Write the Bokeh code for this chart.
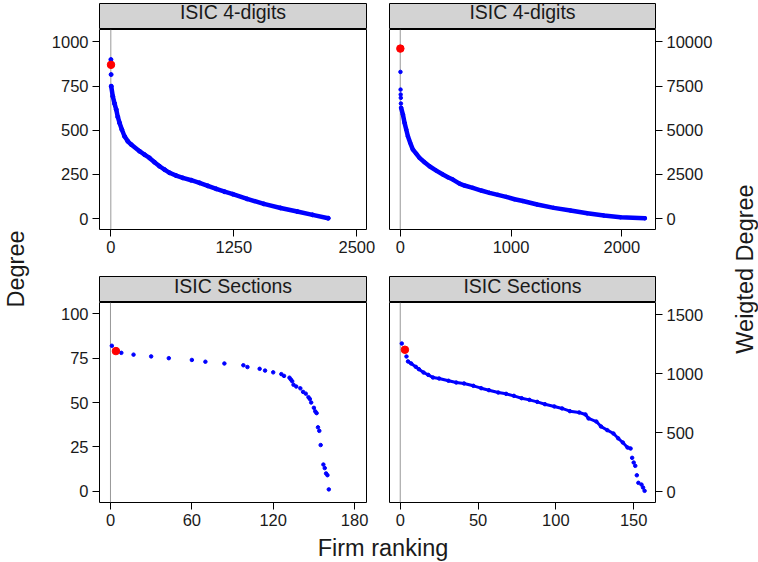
import math
from bokeh.plotting import figure
from bokeh.models import Range1d, FixedTicker, Span, Label
from bokeh.layouts import row, column
from bokeh.embed import file_html
from bokeh.resources import INLINE

# ---------------- data ----------------
strip_top = "ISIC 4-digits"
strip_bottom = "ISIC Sections"

# ISIC 4-digits, degree (rank vs degree)
d4_rank = [1, 3, 4, 20, 38, 55, 71, 89, 112, 139, 173, 207, 292, 342, 393, 444, 495,
           546, 597, 664, 732, 817, 901, 986, 1071, 1156, 1240, 1385, 1555, 1725,
           1894, 2050, 2209]
d4_val = [900, 815, 749, 692, 651, 617, 575, 541, 504, 466, 437, 419, 381, 362, 343, 319,
          296, 277, 259, 243, 230, 217, 202, 185, 168, 152, 138, 111, 83, 60, 40, 21, 2]
d4_hl_rank = [2]
d4_hl_val = [870]

# ISIC 4-digits, weighted degree
w4_rank = [2, 3, 4, 5, 6, 8, 24, 39, 54, 69, 90, 114, 144, 174, 219, 264, 325, 385, 430,
           475, 535, 580, 655, 731, 806, 881, 956, 1032, 1107, 1236, 1386, 1537, 1688,
           1838, 1988, 2208]
w4_val = [8300, 7300, 7020, 6830, 6510, 6265, 5886, 5415, 5037, 4660, 4284, 3905, 3678,
          3435, 3186, 2960, 2716, 2490, 2337, 2207, 1980, 1868, 1737, 1585, 1454, 1341,
          1228, 1092, 990, 792, 605, 453, 300, 170, 74, 17]
w4_hl_rank = [1]
w4_hl_val = [9620]

# ISIC Sections, degree
ds_rank = [1, 8, 17, 30, 43, 60, 70, 84, 98, 101, 110, 114, 120, 126, 128, 132, 133, 134,
           135, 137, 140, 142, 144, 146, 147, 148, 150, 151, 152, 153, 154, 155, 157, 158,
           159, 160, 161]
ds_val = [82, 78, 77, 76, 75, 74, 73, 72, 71, 70, 69, 68, 67, 66, 65, 64, 63, 62, 60, 59,
          58, 56, 55, 53, 52, 50, 47, 45, 44, 36, 34, 26, 15, 13, 10, 9, 1]
ds_hl_rank = [4]
ds_hl_val = [79]

# ISIC Sections, weighted degree
ws_rank = [1, 4, 5, 7, 10, 12, 15, 18, 21, 25, 31, 36, 41, 47, 52, 57, 63, 68, 73, 78, 83,
           88, 93, 99, 104, 109, 115, 119, 121, 126, 129, 133, 137, 140, 143, 146, 148,
           149, 150, 151, 152, 153, 155, 156, 157]
ws_val = [1256, 1146, 1104, 1087, 1058, 1038, 1010, 990, 968, 959, 940, 925, 917, 897, 877,
          860, 840, 829, 812, 792, 778, 761, 741, 722, 705, 682, 671, 654, 620, 594, 552,
          521, 492, 452, 416, 374, 365, 286, 246, 218, 138, 74, 59, 34, 6]
ws_hl_rank = [3]
ws_hl_val = [1203]

x_ticks_tl = [0, 1250, 2500]
y_ticks_tl = [0, 250, 500, 750, 1000]
x_ticks_tr = [0, 1000, 2000]
y_ticks_tr = [0, 2500, 5000, 7500, 10000]
x_ticks_bl = [0, 60, 120, 180]
y_ticks_bl = [0, 25, 50, 75, 100]
x_ticks_br = [0, 50, 100, 150]
y_ticks_br = [0, 500, 1000, 1500]

y_title_left = "Degree"
y_title_right = "Weigted Degree"
x_title = "Firm ranking"

# ---------------- styling ----------------
FONT = "Liberation Sans"
TICK_SIZE = "16.5px"
STRIP_SIZE = "19.5px"
TITLE_SIZE = "23.5px"
BLUE = "#0000FF"
RED = "#FF0000"
STRIP_FILL = "#D3D3D3"
TXT = "#1a1a1a"

LW, RW = 333, 340          # widths of left / right column figures
L_ML, L_MR = 54, 12        # borders -> frame 99..366
R_ML, R_MR = 11, 63        # borders -> frame 389..655


def style_axis(ax, ticks):
    ax.ticker = FixedTicker(ticks=ticks)
    ax.axis_line_color = None
    ax.major_tick_line_color = "#000000"
    ax.major_tick_out = 7
    ax.major_tick_in = 0
    ax.minor_tick_line_color = None
    ax.major_label_text_font = FONT
    ax.major_label_text_font_size = TICK_SIZE
    ax.major_label_text_color = TXT
    ax.major_label_standoff = 4


def panel(width, height, ml, mr, mb, xr, yr, yloc, xt, yt):
    p = figure(width=width, height=height, x_range=Range1d(*xr), y_range=Range1d(*yr),
               output_backend="svg", toolbar_location=None,
               x_axis_location="below", y_axis_location=yloc,
               min_border_left=ml, min_border_right=mr, min_border_top=0,
               min_border_bottom=mb)
    p.xgrid.visible = False
    p.ygrid.visible = False
    p.outline_line_color = "#000000"
    p.outline_line_width = 1
    p.border_fill_color = "white"
    style_axis(p.xaxis[0], xt)
    style_axis(p.yaxis[0], yt)
    p.add_layout(Span(location=0, dimension="height", line_color="#999999",
                      line_width=1, level="underlay"))
    return p


def strip(width, height, ml, mr, mt, text, base_y):
    s = figure(width=width, height=height, x_range=Range1d(0, 1), y_range=Range1d(0, 1),
               output_backend="svg", toolbar_location=None,
               x_axis_location=None, y_axis_location=None,
               min_border_left=ml, min_border_right=mr, min_border_top=mt,
               min_border_bottom=0)
    s.xgrid.visible = False
    s.ygrid.visible = False
    s.background_fill_color = STRIP_FILL
    s.border_fill_color = "white"
    s.outline_line_color = "#000000"
    s.outline_line_width = 1
    s.add_layout(Label(x=0.5, y=base_y, text=text, text_align="center",
                       text_baseline="alphabetic", text_font=FONT,
                       text_font_size=STRIP_SIZE, text_color=TXT))
    return s


def label_fig(width, height, **lab):
    f = figure(width=width, height=height, x_range=Range1d(0, width),
               y_range=Range1d(0, height), output_backend="svg", toolbar_location=None,
               x_axis_location=None, y_axis_location=None, min_border=0)
    f.xgrid.visible = False
    f.ygrid.visible = False
    f.outline_line_color = None
    f.border_fill_color = "white"
    f.add_layout(Label(text_font=FONT, text_font_size=TITLE_SIZE, text_color=TXT, **lab))
    return f


# ---------------- panels ----------------
tl = panel(LW, 246, L_ML, L_MR, 46, (-115, 2598), (-62, 1070), "left", x_ticks_tl, y_ticks_tl)
tl.line(d4_rank[2:], d4_val[2:], line_color=BLUE, line_width=4.5, line_cap="round")
tl.scatter(d4_rank, d4_val, size=4, color=BLUE)
tl.scatter(d4_hl_rank, d4_hl_val, size=7.5, color=RED)

tr = panel(RW, 246, R_ML, R_MR, 46, (-97, 2304), (-620, 10700), "right", x_ticks_tr, y_ticks_tr)
tr.line(w4_rank[5:], w4_val[5:], line_color=BLUE, line_width=4.5, line_cap="round")
tr.scatter(w4_rank, w4_val, size=3.5, color=BLUE)
tr.scatter(w4_hl_rank, w4_hl_val, size=7.5, color=RED)

bl = panel(LW, 230, L_ML, L_MR, 30, (-8.1, 188.8), (-6.4, 106.4), "left", x_ticks_bl, y_ticks_bl)
bl.scatter(ds_rank, ds_val, size=3.5, color=BLUE)
bl.scatter(ds_hl_rank, ds_hl_val, size=7.5, color=RED)

br = panel(RW, 230, R_ML, R_MR, 30, (-6.9, 164), (-93, 1604), "right", x_ticks_br, y_ticks_br)
br.line(ws_rank[2:37], ws_val[2:37], line_color=BLUE, line_width=3, line_cap="round")
br.scatter(ws_rank, ws_val, size=3.5, color=BLUE)
br.scatter(ws_hl_rank, ws_hl_val, size=7.5, color=RED)

s_tl = strip(LW, 29, L_ML, L_MR, 3, strip_top, 17.5 / 26)
s_tr = strip(RW, 29, R_ML, R_MR, 3, strip_top, 17.5 / 26)
s_bl = strip(LW, 27, L_ML, L_MR, 1, strip_bottom, 17.0 / 26)
s_br = strip(RW, 27, R_ML, R_MR, 1, strip_bottom, 17.0 / 26)

xlab = label_fig(673, 30, x=337.5, y=14.5, text=x_title, text_align="center",
                 text_baseline="alphabetic")
ylab_l = label_fig(45, 562, x=15, y=293.5, text=y_title_left, angle=math.pi / 2,
                   text_align="center", text_baseline="alphabetic")
ylab_r = label_fig(40, 562, x=26, y=293.5, text=y_title_right, angle=math.pi / 2,
                   text_align="center", text_baseline="alphabetic")

center = column(row(s_tl, s_tr), row(tl, tr), row(s_bl, s_br), row(bl, br), xlab)
layout = row(ylab_l, center, ylab_r)

open("out.html", "w").write(file_html(layout, INLINE))
